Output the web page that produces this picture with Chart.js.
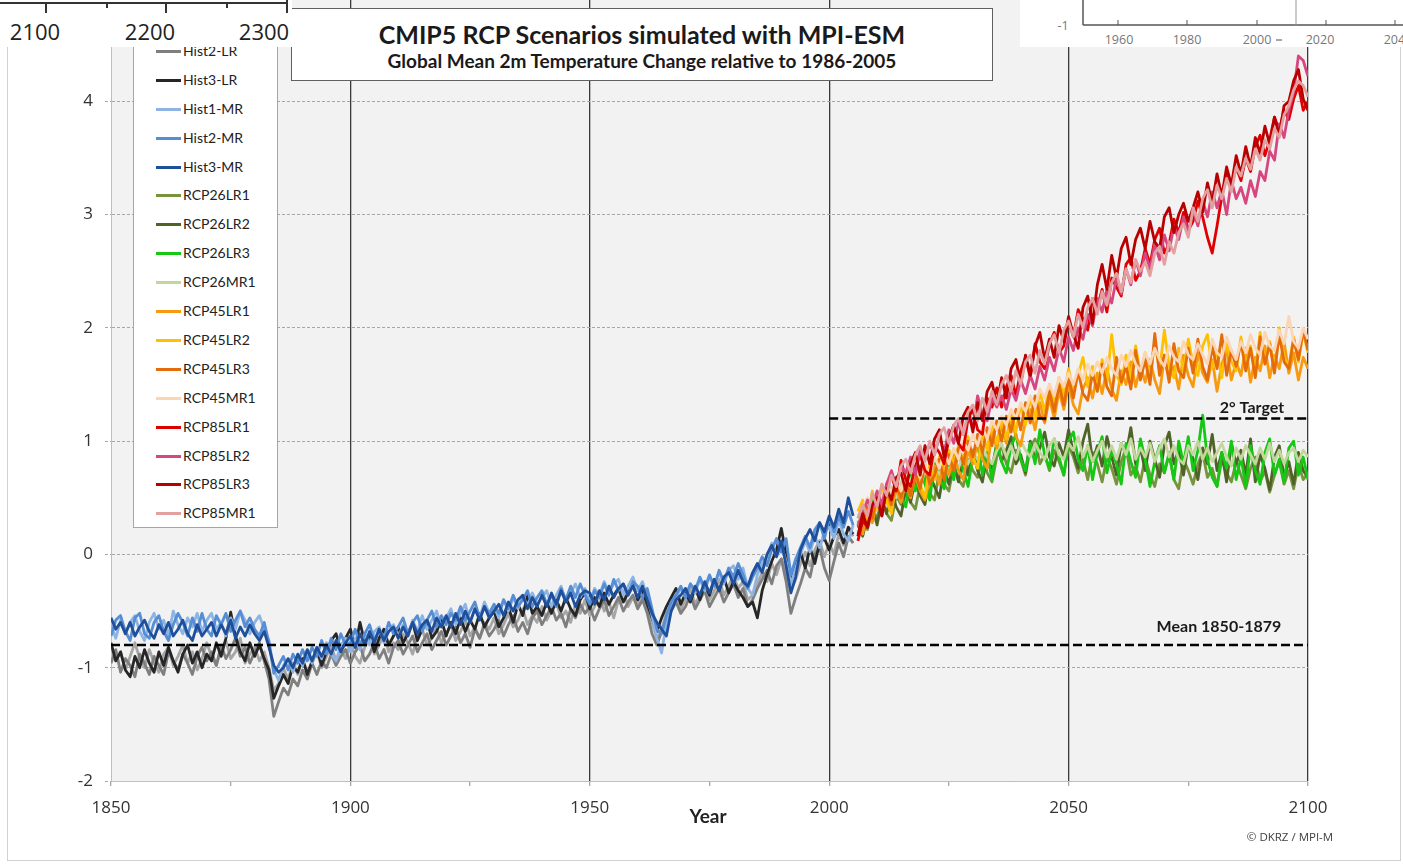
<!DOCTYPE html>
<html>
<head>
<meta charset="utf-8">
<script src="https://cdn.jsdelivr.net/npm/chart.js@4.4.0/dist/chart.umd.min.js"></script>
<style>
  body { margin:0; width:1403px; height:865px; overflow:hidden; background:#fff; position:relative; font-family:Lato, 'Open Sans', sans-serif; }
  #frame { position:absolute; left:7px; top:-2px; width:1392px; height:861px; border:1px solid #d0d0d0; }
  #wrap { position:absolute; left:0; top:-50px; width:1403px; height:915px; }
  #titlebox { position:absolute; left:291px; top:8px; width:700px; height:71px; background:#fff; border:1px solid #606060; text-align:center; color:#1a1a1a; }
  #titlebox .t1 { font-weight:bold; font-size:25px; margin-top:11px; line-height:28px; }
  #titlebox .t2 { font-weight:bold; font-size:19px; margin-top:2px; line-height:22px; }
  #legend { position:absolute; left:133px; top:5px; width:143px; height:521px; background:#fff; border:1px solid #a6a6a6; }
  .lrow { position:absolute; left:0; height:16px; width:140px; }
  .lrow .sw { position:absolute; left:22px; top:7px; width:25px; height:3px; }
  .lrow .lt { position:absolute; left:49px; top:0; font-size:14px; line-height:16px; color:#222; }
  #xtitle { position:absolute; left:658px; top:804px; width:100px; text-align:center; font-weight:bold; font-size:19px; color:#222; }
  #copy { position:absolute; left:1200px; top:829px; width:180px; text-align:center; font-family:'Open Sans', sans-serif; font-size:11.5px; color:#404040; }
  .frag { position:absolute; background:#fff; }
</style>
</head>
<body>
<div id="frame"></div>
<div id="wrap"><canvas id="chart" width="1403" height="915"></canvas></div>
<div id="titlebox">
  <div class="t1">CMIP5 RCP Scenarios simulated with MPI-ESM</div>
  <div class="t2">Global Mean 2m Temperature Change relative to 1986-2005</div>
</div>
<div id="legend"></div>
<div id="xtitle">Year</div>
<div id="copy">© DKRZ / MPI-M</div>

<!-- pieces of other figures pasted over the top edge -->
<svg class="frag" style="left:0;top:0" width="292" height="47">
  <line x1="0" y1="3" x2="288" y2="3" stroke="#333" stroke-width="2"/>
  <line x1="46" y1="3" x2="46" y2="13" stroke="#333" stroke-width="2"/>
  <line x1="107" y1="3" x2="107" y2="8" stroke="#333" stroke-width="2"/>
  <line x1="166" y1="3" x2="166" y2="13" stroke="#333" stroke-width="2"/>
  <line x1="227" y1="3" x2="227" y2="8" stroke="#333" stroke-width="2"/>
  <line x1="287" y1="0" x2="287" y2="13" stroke="#333" stroke-width="2"/>
  <g font-family="Open Sans" font-size="22" fill="#222" text-anchor="middle">
    <text x="35" y="40">2100</text><text x="150" y="40">2200</text><text x="264" y="40">2300</text>
  </g>
</svg>
<svg class="frag" style="left:1020px;top:0" width="383" height="47">
  <line x1="63" y1="0" x2="63" y2="25" stroke="#555" stroke-width="1.5"/>
  <line x1="63" y1="25" x2="383" y2="25" stroke="#555" stroke-width="1.5"/>
  <line x1="276" y1="0" x2="276" y2="25" stroke="#999" stroke-width="1"/>
  <g stroke="#555" stroke-width="1">
    <line x1="98" y1="25" x2="98" y2="20"/><line x1="167" y1="25" x2="167" y2="20"/>
    <line x1="237" y1="25" x2="237" y2="20"/><line x1="306" y1="25" x2="306" y2="20"/>
    <line x1="375" y1="25" x2="375" y2="20"/>
  </g>
  <line x1="256" y1="40" x2="262" y2="40" stroke="#888" stroke-width="1.5"/>
  <g font-family="Open Sans" font-size="12.5" fill="#777" text-anchor="middle">
    <text x="43" y="30">-1</text>
    <text x="99" y="44">1960</text><text x="167" y="44">1980</text><text x="237" y="44">2000</text>
    <text x="300" y="44">2020</text><text x="378" y="44">2040</text>
  </g>
</svg>

<script>
// years
const histYears = [
  1850,1851,1852,1853,1854,1855,1856,1857,1858,1859,
  1860,1861,1862,1863,1864,1865,1866,1867,1868,1869,
  1870,1871,1872,1873,1874,1875,1876,1877,1878,1879,
  1880,1881,1882,1883,1884,1885,1886,1887,1888,1889,
  1890,1891,1892,1893,1894,1895,1896,1897,1898,1899,
  1900,1901,1902,1903,1904,1905,1906,1907,1908,1909,
  1910,1911,1912,1913,1914,1915,1916,1917,1918,1919,
  1920,1921,1922,1923,1924,1925,1926,1927,1928,1929,
  1930,1931,1932,1933,1934,1935,1936,1937,1938,1939,
  1940,1941,1942,1943,1944,1945,1946,1947,1948,1949,
  1950,1951,1952,1953,1954,1955,1956,1957,1958,1959,
  1960,1961,1962,1963,1964,1965,1966,1967,1968,1969,
  1970,1971,1972,1973,1974,1975,1976,1977,1978,1979,
  1980,1981,1982,1983,1984,1985,1986,1987,1988,1989,
  1990,1991,1992,1993,1994,1995,1996,1997,1998,1999,
  2000,2001,2002,2003,2004,2005
];
const rcpYears = [
  2006,2007,2008,2009,2010,2011,2012,2013,2014,2015,
  2016,2017,2018,2019,2020,2021,2022,2023,2024,2025,
  2026,2027,2028,2029,2030,2031,2032,2033,2034,2035,
  2036,2037,2038,2039,2040,2041,2042,2043,2044,2045,
  2046,2047,2048,2049,2050,2051,2052,2053,2054,2055,
  2056,2057,2058,2059,2060,2061,2062,2063,2064,2065,
  2066,2067,2068,2069,2070,2071,2072,2073,2074,2075,
  2076,2077,2078,2079,2080,2081,2082,2083,2084,2085,
  2086,2087,2088,2089,2090,2091,2092,2093,2094,2095,
  2096,2097,2098,2099,2100
];

// historical runs (°C relative to 1986-2005)
const hist1LR = [
  -0.80,-0.94,-0.86,-1.02,-0.90,-0.78,-0.92,-1.00,-0.84,-0.96,
  -1.04,-0.88,-0.82,-0.98,-0.90,-0.80,-0.96,-0.86,-1.02,-0.92,
  -0.78,-0.90,-0.98,-0.84,-0.76,-0.92,-0.86,-0.74,-0.96,-0.88,
  -0.82,-0.94,-0.86,-1.00,-1.20,-1.14,-1.00,-1.10,-0.96,-1.06,
  -0.92,-1.04,-0.96,-0.86,-1.00,-0.90,-0.80,-0.94,-0.84,-0.92,
  -0.78,-0.90,-0.96,-0.82,-0.74,-0.88,-0.80,-0.70,-0.86,-0.78,
  -0.84,-0.70,-0.78,-0.88,-0.72,-0.66,-0.80,-0.74,-0.64,-0.78,
  -0.70,-0.62,-0.76,-0.68,-0.58,-0.72,-0.64,-0.74,-0.60,-0.66,
  -0.56,-0.70,-0.62,-0.52,-0.64,-0.58,-0.48,-0.62,-0.54,-0.60,
  -0.46,-0.58,-0.50,-0.42,-0.56,-0.50,-0.60,-0.44,-0.52,-0.40,
  -0.54,-0.46,-0.36,-0.50,-0.42,-0.56,-0.40,-0.32,-0.46,-0.38,
  -0.44,-0.34,-0.48,-0.60,-0.74,-0.66,-0.52,-0.44,-0.36,-0.48,
  -0.40,-0.30,-0.44,-0.36,-0.26,-0.40,-0.32,-0.22,-0.36,-0.28,
  -0.18,-0.30,-0.24,-0.40,-0.36,-0.26,-0.16,-0.24,-0.08,-0.18,
  -0.04,-0.16,-0.32,-0.22,-0.08,0.02,-0.10,0.04,0.12,-0.02,
  0.10,0.00,0.18,0.08,0.24,0.16
];
const hist2LR = [
  -0.96,-0.84,-1.04,-0.92,-0.98,-1.08,-0.88,-0.96,-1.06,-0.90,
  -0.98,-1.06,-0.86,-0.94,-1.02,-0.88,-0.96,-1.06,-0.90,-0.82,
  -0.94,-0.86,-0.98,-0.80,-0.92,-0.84,-0.74,-0.90,-0.82,-0.96,
  -0.86,-0.78,-0.94,-1.10,-1.43,-1.30,-1.18,-1.24,-1.10,-1.16,
  -1.02,-1.10,-0.96,-1.06,-0.94,-1.00,-0.88,-0.98,-0.90,-0.84,
  -0.96,-0.86,-0.80,-0.94,-0.88,-0.78,-0.92,-0.84,-0.96,-0.82,
  -0.76,-0.88,-0.80,-0.72,-0.86,-0.78,-0.70,-0.84,-0.76,-0.68,
  -0.80,-0.72,-0.64,-0.78,-0.70,-0.82,-0.66,-0.74,-0.62,-0.72,
  -0.66,-0.58,-0.72,-0.62,-0.54,-0.68,-0.60,-0.70,-0.56,-0.50,
  -0.62,-0.54,-0.46,-0.58,-0.52,-0.64,-0.48,-0.56,-0.44,-0.52,
  -0.46,-0.58,-0.48,-0.40,-0.54,-0.46,-0.38,-0.50,-0.42,-0.36,
  -0.48,-0.40,-0.52,-0.70,-0.80,-0.68,-0.58,-0.50,-0.42,-0.52,
  -0.46,-0.36,-0.48,-0.40,-0.32,-0.46,-0.38,-0.30,-0.42,-0.34,
  -0.26,-0.38,-0.30,-0.46,-0.40,-0.30,-0.22,-0.14,-0.26,-0.10,
  -0.04,-0.24,-0.52,-0.38,-0.26,-0.12,-0.20,0.00,0.06,-0.12,
  -0.23,-0.06,0.10,-0.02,0.16,0.10
];
const hist3LR = [
  -0.78,-0.94,-0.86,-1.02,-1.08,-0.90,-1.00,-0.84,-0.96,-1.04,
  -0.86,-0.98,-0.82,-0.94,-1.04,-0.88,-0.80,-0.96,-0.86,-1.00,
  -0.88,-0.94,-0.78,-0.90,-0.74,-0.51,-0.72,-0.86,-0.94,-0.78,
  -0.90,-0.80,-0.92,-1.02,-1.27,-1.16,-1.06,-1.14,-0.98,-1.04,
  -0.92,-1.06,-0.94,-0.84,-0.98,-0.86,-0.76,-0.70,-0.84,-0.74,
  -0.66,-0.82,-0.60,-0.78,-0.70,-0.86,-0.74,-0.66,-0.80,-0.72,
  -0.64,-0.78,-0.70,-0.60,-0.76,-0.66,-0.58,-0.74,-0.68,-0.58,
  -0.72,-0.60,-0.70,-0.56,-0.68,-0.58,-0.66,-0.52,-0.64,-0.56,
  -0.50,-0.64,-0.56,-0.46,-0.60,-0.44,-0.54,-0.36,-0.52,-0.46,
  -0.54,-0.42,-0.52,-0.40,-0.50,-0.38,-0.48,-0.54,-0.40,-0.34,
  -0.48,-0.38,-0.46,-0.34,-0.44,-0.36,-0.30,-0.42,-0.34,-0.26,
  -0.40,-0.32,-0.44,-0.56,-0.68,-0.56,-0.46,-0.38,-0.30,-0.44,
  -0.34,-0.42,-0.30,-0.40,-0.26,-0.36,-0.22,-0.32,-0.20,-0.34,
  -0.24,-0.32,-0.38,-0.46,-0.42,-0.56,-0.32,-0.18,-0.06,0.04,
  0.23,0.00,-0.22,-0.10,0.02,-0.12,0.06,-0.08,0.10,0.14,
  0.04,0.16,0.22,0.10,0.24,0.18
];
const hist1MR = [
  -0.62,-0.74,-0.58,-0.70,-0.60,-0.54,-0.68,-0.76,-0.60,-0.52,
  -0.66,-0.58,-0.72,-0.50,-0.62,-0.70,-0.56,-0.64,-0.52,-0.68,
  -0.58,-0.52,-0.66,-0.60,-0.72,-0.56,-0.66,-0.50,-0.58,-0.70,
  -0.60,-0.54,-0.66,-0.76,-1.02,-1.11,-0.98,-0.92,-1.04,-0.90,
  -0.98,-0.86,-0.96,-0.82,-0.92,-0.78,-0.88,-0.94,-0.80,-0.74,
  -0.86,-0.74,-0.84,-0.70,-0.80,-0.68,-0.64,-0.78,-0.68,-0.62,
  -0.74,-0.62,-0.72,-0.58,-0.68,-0.54,-0.66,-0.58,-0.50,-0.64,
  -0.56,-0.48,-0.62,-0.52,-0.44,-0.60,-0.48,-0.56,-0.42,-0.52,
  -0.46,-0.56,-0.40,-0.50,-0.38,-0.48,-0.36,-0.46,-0.34,-0.44,
  -0.38,-0.32,-0.46,-0.36,-0.28,-0.42,-0.34,-0.26,-0.38,-0.30,
  -0.42,-0.30,-0.36,-0.24,-0.34,-0.26,-0.22,-0.36,-0.28,-0.20,
  -0.32,-0.24,-0.38,-0.54,-0.74,-0.87,-0.60,-0.46,-0.38,-0.30,
  -0.38,-0.26,-0.34,-0.22,-0.32,-0.20,-0.28,-0.16,-0.26,-0.14,
  -0.10,-0.22,-0.12,-0.30,-0.36,-0.18,-0.08,-0.02,0.10,-0.02,
  0.08,-0.06,-0.26,-0.12,0.00,0.12,0.02,0.16,0.06,0.20,
  0.24,0.14,0.30,0.18,0.12,0.26
];
const hist2MR = [
  -0.72,-0.58,-0.54,-0.68,-0.76,-0.56,-0.52,-0.70,-0.74,-0.60,
  -0.54,-0.68,-0.76,-0.62,-0.52,-0.60,-0.72,-0.56,-0.68,-0.52,
  -0.66,-0.72,-0.54,-0.62,-0.52,-0.68,-0.58,-0.50,-0.64,-0.56,
  -0.66,-0.72,-0.60,-0.78,-1.05,-0.98,-0.90,-1.02,-0.88,-0.96,
  -0.84,-0.94,-0.82,-0.90,-0.76,-0.88,-0.74,-0.84,-0.70,-0.80,
  -0.78,-0.66,-0.80,-0.70,-0.62,-0.76,-0.66,-0.74,-0.60,-0.70,
  -0.64,-0.56,-0.70,-0.60,-0.54,-0.68,-0.58,-0.50,-0.64,-0.54,
  -0.62,-0.52,-0.58,-0.46,-0.58,-0.50,-0.42,-0.56,-0.46,-0.52,
  -0.44,-0.52,-0.40,-0.48,-0.36,-0.46,-0.40,-0.32,-0.46,-0.38,
  -0.32,-0.44,-0.36,-0.46,-0.30,-0.40,-0.28,-0.38,-0.26,-0.36,
  -0.44,-0.32,-0.38,-0.26,-0.36,-0.22,-0.32,-0.26,-0.36,-0.24,
  -0.28,-0.38,-0.30,-0.48,-0.66,-0.70,-0.54,-0.42,-0.36,-0.28,
  -0.38,-0.26,-0.32,-0.20,-0.30,-0.18,-0.28,-0.14,-0.24,-0.12,
  -0.20,-0.08,-0.18,-0.30,-0.20,-0.12,-0.02,-0.10,0.04,0.14,
  0.02,0.14,-0.18,-0.04,0.06,0.16,0.06,0.22,0.28,0.14,
  0.32,0.20,0.34,0.24,0.38,0.26
];
const hist3MR = [
  -0.56,-0.66,-0.60,-0.70,-0.60,-0.72,-0.64,-0.58,-0.68,-0.74,
  -0.62,-0.70,-0.60,-0.72,-0.66,-0.58,-0.70,-0.76,-0.62,-0.72,
  -0.66,-0.60,-0.72,-0.62,-0.70,-0.58,-0.74,-0.64,-0.72,-0.62,
  -0.70,-0.76,-0.68,-0.82,-0.98,-1.04,-1.00,-0.92,-1.00,-0.88,
  -0.96,-0.84,-0.94,-0.82,-0.90,-0.80,-0.88,-0.76,-0.86,-0.78,
  -0.72,-0.82,-0.70,-0.80,-0.68,-0.78,-0.66,-0.76,-0.68,-0.64,
  -0.74,-0.64,-0.72,-0.60,-0.70,-0.62,-0.58,-0.68,-0.56,-0.64,
  -0.54,-0.64,-0.52,-0.62,-0.50,-0.60,-0.48,-0.58,-0.46,-0.56,
  -0.50,-0.44,-0.54,-0.42,-0.50,-0.40,-0.36,-0.48,-0.38,-0.46,
  -0.36,-0.46,-0.34,-0.44,-0.32,-0.42,-0.34,-0.46,-0.36,-0.32,
  -0.34,-0.44,-0.32,-0.40,-0.28,-0.38,-0.30,-0.26,-0.36,-0.28,
  -0.38,-0.28,-0.40,-0.52,-0.60,-0.66,-0.72,-0.50,-0.40,-0.36,
  -0.30,-0.40,-0.28,-0.36,-0.24,-0.34,-0.22,-0.32,-0.20,-0.16,
  -0.26,-0.14,-0.24,-0.28,-0.16,-0.08,-0.16,0.00,0.08,-0.02,
  0.12,-0.10,-0.34,-0.20,0.04,0.14,0.22,0.12,0.28,0.20,
  0.34,0.24,0.40,0.28,0.50,0.34
];

// RCP 2.6
const rcp26LR1 = [
  0.16,0.28,0.22,0.40,0.32,0.48,0.36,0.30,0.52,0.44,
  0.58,0.46,0.40,0.62,0.70,0.54,0.48,0.74,0.62,0.56,
  0.78,0.66,0.60,0.84,0.74,0.68,0.90,0.72,0.64,0.86,
  0.96,0.80,0.72,0.92,0.84,0.70,0.94,1.02,0.80,0.88,
  0.74,0.92,0.82,0.70,0.96,0.86,0.72,0.84,0.66,0.90,
  0.80,0.64,0.86,0.76,0.62,0.82,0.94,0.70,0.78,0.64,
  0.86,0.70,0.60,0.80,0.72,0.88,0.66,0.58,0.84,0.74,
  0.62,0.80,0.90,0.68,0.76,0.60,0.84,0.72,0.64,0.82,
  0.70,0.58,0.76,0.86,0.64,0.74,0.55,0.70,0.82,0.62,
  0.74,0.58,0.80,0.66,0.72
];
const rcp26LR2 = [
  0.26,0.16,0.34,0.42,0.26,0.48,0.36,0.56,0.42,0.34,
  0.58,0.46,0.66,0.52,0.44,0.70,0.60,0.50,0.76,0.62,
  0.80,0.64,0.86,0.70,0.92,0.74,0.64,0.88,0.76,0.98,
  0.82,0.92,1.04,0.80,0.88,0.72,1.00,0.84,0.94,1.08,
  0.86,0.78,0.98,0.86,1.10,0.90,0.76,1.00,1.15,0.82,
  0.96,0.78,1.04,0.86,0.70,0.98,0.88,1.12,0.80,0.94,
  0.74,1.00,0.84,0.68,0.96,1.08,0.80,0.92,0.70,0.98,
  0.84,0.66,0.94,0.80,1.06,0.74,0.90,0.64,0.98,0.80,
  0.92,0.70,1.02,0.64,0.88,0.76,0.57,0.86,0.96,0.68,
  0.82,0.62,0.90,0.74,0.68
];
const rcp26LR3 = [
  0.32,0.40,0.24,0.46,0.54,0.38,0.60,0.46,0.66,0.52,
  0.42,0.70,0.56,0.78,0.62,0.48,0.82,0.68,0.58,0.84,
  0.66,0.92,0.74,0.60,0.86,0.98,0.70,0.90,0.66,1.00,
  0.82,0.72,0.96,1.06,0.84,0.74,0.98,0.80,1.10,0.88,
  0.76,1.02,0.86,0.70,1.00,1.08,0.84,0.74,0.96,0.66,
  0.90,1.04,0.72,0.92,0.80,0.62,0.98,0.82,0.68,1.02,
  0.84,0.60,0.82,0.96,0.72,0.90,0.66,1.00,0.80,1.04,
  0.74,0.92,1.23,0.84,0.68,0.60,0.90,0.76,1.00,0.66,
  0.86,0.60,0.96,0.74,0.62,0.90,1.02,0.70,0.84,0.64,
  0.94,1.00,0.70,0.86,0.66
];
const rcp26MR1 = [
  0.26,0.36,0.44,0.34,0.48,0.56,0.46,0.60,0.50,0.64,
  0.56,0.66,0.72,0.60,0.74,0.66,0.78,0.70,0.82,0.74,
  0.84,0.76,0.88,0.80,0.90,0.84,0.94,0.86,0.80,0.92,
  0.98,0.86,0.96,0.84,1.00,0.92,0.86,0.98,0.90,0.84,
  0.96,1.02,0.88,0.84,0.98,0.92,1.04,0.86,0.96,0.82,
  0.92,1.00,0.86,0.96,0.84,0.98,0.88,1.02,0.84,0.94,
  0.86,0.98,0.82,0.94,1.02,0.86,0.96,0.84,0.80,0.96,
  0.88,1.00,0.84,0.94,0.82,0.90,0.98,0.86,0.78,0.94,
  0.84,0.96,0.88,0.80,0.94,0.84,0.98,0.82,0.92,0.80,
  0.90,0.94,0.82,0.92,0.86
];
// RCP 4.5
const rcp45LR1 = [
  0.30,0.18,0.38,0.28,0.46,0.36,0.54,0.40,0.58,0.46,
  0.64,0.50,0.70,0.56,0.48,0.66,0.78,0.62,0.84,0.70,
  0.88,0.74,0.66,0.92,0.80,1.00,0.84,0.76,1.08,0.94,
  1.14,0.98,1.20,1.04,0.96,1.18,1.28,1.10,1.34,1.16,
  1.38,1.20,1.44,1.28,1.50,1.32,1.24,1.46,1.56,1.38,
  1.60,1.42,1.64,1.46,1.36,1.62,1.50,1.70,1.48,1.66,
  1.52,1.72,1.54,1.42,1.74,1.56,1.66,1.46,1.76,1.58,
  1.48,1.78,1.60,1.52,1.72,1.44,1.68,1.80,1.54,1.70,
  1.58,1.82,1.52,1.74,1.62,1.84,1.56,1.76,1.64,1.88,
  1.60,1.78,1.54,1.74,1.64
];
const rcp45LR2 = [
  0.38,0.48,0.28,0.56,0.40,0.62,0.46,0.36,0.66,0.52,
  0.70,0.54,0.76,0.62,0.50,0.80,0.66,0.86,0.70,0.92,
  0.78,0.96,0.82,1.04,0.86,0.76,1.08,0.92,1.16,0.98,
  1.20,1.02,1.26,1.08,1.32,1.14,1.38,1.20,1.44,1.26,
  1.50,1.32,1.56,1.40,1.64,1.44,1.58,1.74,1.48,1.66,
  1.44,1.72,1.52,1.94,1.58,1.50,1.76,1.56,1.84,1.60,
  1.78,1.54,1.88,1.62,1.98,1.66,1.56,1.82,1.62,1.90,
  1.68,1.58,1.84,1.94,1.64,1.80,1.56,1.88,1.70,1.62,
  1.92,1.66,1.84,1.60,1.96,1.70,1.88,1.64,2.00,1.74,
  1.66,1.92,1.70,1.96,1.78
];
const rcp45LR3 = [
  0.18,0.30,0.42,0.32,0.52,0.42,0.58,0.44,0.62,0.50,
  0.66,0.52,0.72,0.58,0.80,0.62,0.70,0.84,0.66,0.88,
  0.74,0.94,0.80,1.00,0.86,1.06,0.90,1.12,0.96,1.18,
  1.00,1.22,1.08,1.28,1.10,1.34,1.16,1.40,1.22,1.18,
  1.44,1.26,1.50,1.32,1.56,1.38,1.62,1.42,1.36,1.60,
  1.44,1.68,1.48,1.40,1.74,1.52,1.66,1.46,1.80,1.54,
  1.72,1.50,1.95,1.58,1.76,1.52,1.86,1.62,1.56,1.82,
  1.60,1.90,1.66,1.54,1.84,1.64,1.94,1.58,1.80,1.66,
  1.88,1.62,1.82,1.56,1.92,1.68,1.86,1.60,1.94,1.70,
  1.64,1.90,1.72,1.98,1.80
];
const rcp45MR1 = [
  0.34,0.42,0.50,0.40,0.56,0.48,0.62,0.54,0.66,0.56,
  0.70,0.60,0.76,0.68,0.80,0.70,0.86,0.76,0.90,0.80,
  0.94,0.84,1.00,0.92,1.06,0.96,1.12,1.02,1.18,1.10,
  1.22,1.14,1.28,1.20,1.34,1.26,1.40,1.30,1.46,1.38,
  1.50,1.40,1.56,1.48,1.60,1.50,1.64,1.54,1.68,1.58,
  1.70,1.60,1.74,1.64,1.58,1.76,1.66,1.80,1.68,1.62,
  1.78,1.68,1.82,1.72,1.66,1.84,1.74,1.70,1.88,1.76,
  1.72,1.86,1.76,1.68,1.90,1.78,1.74,1.92,1.80,1.72,
  1.88,1.78,1.94,1.82,1.76,1.96,1.84,1.80,1.98,1.86,
  2.10,1.88,1.82,2.00,1.90
];
// RCP 8.5
const rcp85LR1 = [
  0.12,0.30,0.24,0.42,0.50,0.34,0.62,0.70,0.56,0.83,
  0.66,0.60,0.78,0.88,0.74,0.70,0.96,0.90,0.80,1.02,
  1.12,0.98,0.92,1.20,1.28,1.10,1.06,1.38,1.30,1.47,
  1.30,1.48,1.58,1.40,1.62,1.74,1.56,1.86,1.70,1.64,
  1.86,1.96,1.78,1.84,2.06,1.92,2.16,2.08,1.98,2.26,
  2.18,2.34,2.14,2.44,2.36,2.28,2.56,2.62,2.42,2.50,
  2.70,2.56,2.78,2.88,2.66,2.74,2.96,2.84,3.02,2.86,
  2.94,3.12,2.98,2.80,2.66,2.90,3.16,3.36,3.24,3.42,
  3.30,3.50,3.38,3.60,3.70,3.52,3.66,3.86,3.74,3.92,
  3.84,4.02,4.14,3.92,4.00
];
const rcp85LR2 = [
  0.26,0.36,0.48,0.40,0.56,0.44,0.62,0.74,0.60,0.78,
  0.72,0.86,0.70,0.92,0.84,0.98,0.88,1.04,0.90,1.10,
  0.98,1.16,1.06,1.22,1.12,1.40,1.24,1.18,1.38,1.30,
  1.40,1.28,1.46,1.36,1.54,1.42,1.58,1.46,1.66,1.54,
  1.74,1.62,1.82,1.70,1.92,1.80,2.00,1.90,2.12,2.02,
  2.26,2.14,2.34,2.22,2.44,2.30,2.52,2.38,2.60,2.46,
  2.66,2.52,2.74,2.60,2.82,2.68,2.90,2.78,2.98,2.84,
  3.04,2.90,3.12,2.98,3.20,3.06,3.22,3.00,3.30,3.14,
  3.24,3.10,3.30,3.16,3.38,3.30,3.56,3.48,3.80,3.68,
  3.92,4.08,4.40,4.36,4.22
];
const rcp85LR3 = [
  0.16,0.36,0.24,0.44,0.50,0.34,0.58,0.48,0.68,0.72,
  0.56,0.80,0.90,0.70,0.96,0.80,1.02,1.10,0.86,1.02,
  1.14,0.98,1.22,1.30,1.08,1.34,1.18,1.44,1.52,1.32,
  1.56,1.38,1.64,1.72,1.50,1.76,1.58,1.84,1.96,1.72,
  1.90,1.74,2.02,1.88,2.10,1.94,1.82,2.18,2.28,2.04,
  2.38,2.56,2.34,2.64,2.44,2.70,2.80,2.56,2.78,2.88,
  2.70,2.94,2.76,2.70,2.98,3.06,2.84,3.00,3.10,2.94,
  3.06,3.20,3.02,3.28,3.10,3.36,3.16,3.42,3.26,3.52,
  3.36,3.60,3.42,3.68,3.54,3.78,3.62,3.86,3.70,3.96,
  4.00,4.18,4.28,4.02,3.92
];
const rcp85MR1 = [
  0.32,0.44,0.34,0.54,0.42,0.62,0.52,0.70,0.60,0.78,
  0.84,0.72,0.88,0.96,0.82,1.00,0.88,1.06,1.12,0.98,
  1.14,1.20,1.06,1.26,1.32,1.18,1.38,1.26,1.44,1.32,
  1.50,1.58,1.44,1.62,1.50,1.70,1.76,1.60,1.80,1.68,
  1.86,1.94,1.78,1.98,2.06,1.92,2.12,2.00,2.18,2.26,
  2.12,2.32,2.20,2.40,2.48,2.32,2.52,2.40,2.60,2.50,
  2.58,2.46,2.66,2.72,2.56,2.76,2.66,2.84,2.92,2.80,
  3.06,2.94,3.14,3.22,3.06,3.26,3.14,3.32,3.20,3.42,
  3.34,3.50,3.40,3.58,3.48,3.66,3.58,3.76,3.68,3.88,
  3.96,4.10,4.18,4.14,4.04
];

const seriesNames = ['Hist1-LR','Hist2-LR','Hist3-LR','Hist1-MR','Hist2-MR','Hist3-MR',
  'RCP26LR1','RCP26LR2','RCP26LR3','RCP26MR1','RCP45LR1','RCP45LR2','RCP45LR3','RCP45MR1',
  'RCP85LR1','RCP85LR2','RCP85LR3','RCP85MR1'];
const seriesColors = ['#a6a6a6','#7f7f7f','#262626','#8db4e2','#558ed5','#1f4e9a',
  '#77933c','#4f6228','#14c814','#c3d69b','#f79a0f','#ffc000','#e46c0a','#fcd5b5',
  '#e00000','#d6467f','#b80000','#e2a0a0'];
const seriesValues = [hist1LR, hist2LR, hist3LR, hist1MR, hist2MR, hist3MR,
  rcp26LR1, rcp26LR2, rcp26LR3, rcp26MR1, rcp45LR1, rcp45LR2, rcp45LR3, rcp45MR1,
  rcp85LR1, rcp85LR2, rcp85LR3, rcp85MR1];

// reference levels
const targetYears = [2000, 2100];
const targetLevel = [1.2, 1.2];
const meanYears = [1850, 2100];
const meanLevel = [-0.8, -0.8];

const xTicks = [1850,1875,1900,1925,1950,1975,2000,2025,2050,2075,2100];

const pts = (xs, ys) => xs.map((x, i) => ({ x: x, y: ys[i] }));

const datasets = [];
const refStyle = { borderColor:'#000', borderWidth:2.6, borderDash:[9,4], pointRadius:0, order:0 };
datasets.push(Object.assign({ data: pts(targetYears, targetLevel) }, refStyle));
datasets.push(Object.assign({ data: pts(meanYears, meanLevel) }, refStyle));
seriesValues.forEach((vals, i) => {
  const xs = i < 6 ? histYears : rcpYears;
  datasets.push({
    label: seriesNames[i],
    data: pts(xs, vals),
    borderColor: seriesColors[i],
    borderWidth: 2.8,
    pointRadius: 0,
    tension: 0,
    borderJoinStyle: 'round',
    order: 100 - i
  });
});

// legend box
const legendEl = document.getElementById('legend');
seriesNames.forEach((name, i) => {
  const row = document.createElement('div');
  row.className = 'lrow';
  row.style.top = (8 + i * 28.9) + 'px';
  row.innerHTML = `<span class="sw" style="background:${seriesColors[i]}"></span><span class="lt">${name}</span>`;
  legendEl.appendChild(row);
});

const plotBg = {
  id: 'plotBg',
  beforeDraw(chart) {
    const { ctx, chartArea: a } = chart;
    ctx.save();
    ctx.fillStyle = '#f2f2f2';
    ctx.fillRect(a.left, a.top, a.right - a.left, a.bottom - a.top);
    ctx.restore();
  }
};
const refLabels = {
  id: 'refLabels',
  afterDatasetsDraw(chart) {
    const { ctx, scales: { x, y } } = chart;
    ctx.save();
    ctx.font = 'bold 16px Lato';
    ctx.fillStyle = '#1a1a1a';
    ctx.textAlign = 'center';
    ctx.textBaseline = 'middle';
    ctx.fillText('2° Target', x.getPixelForValue(2088.3), y.getPixelForValue(targetLevel[0]) - 11);
    ctx.fillText('Mean 1850-1879', x.getPixelForValue(2081.4), y.getPixelForValue(meanLevel[0]) - 18);
    ctx.restore();
  }
};

new Chart(document.getElementById('chart'), {
  type: 'line',
  data: { datasets: datasets },
  plugins: [plotBg, refLabels],
  options: {
    responsive: false,
    animation: false,
    layout: { padding: { top: 38, right: 95, bottom: 0, left: 0 } },
    plugins: { legend: { display: false }, tooltip: { enabled: false } },
    scales: {
      x: {
        type: 'linear', min: 1850, max: 2100,
        afterBuildTicks: axis => { axis.ticks = xTicks.map(v => ({ value: v })); },
        afterFit: s => { s.height = 84; },
        ticks: {
          callback: v => (v % 50 === 0 ? String(v) : ''),
          autoSkip: false, maxRotation: 0, padding: 12,
          font: { family: 'Open Sans', size: 17 }, color: '#333'
        },
        grid: {
          color: c => (c.tick && c.tick.value % 50 === 0 && c.tick.value !== 1850) ? '#3a3a3a' : 'rgba(0,0,0,0)',
          lineWidth: 1.3,
          tickColor: '#a6a6a6', tickLength: 5
        },
        border: { color: '#bfbfbf', width: 1 }
      },
      y: {
        min: -2, max: 5,
        afterFit: s => { s.width = 111; },
        ticks: {
          stepSize: 1,
          callback: v => (v <= 4 ? String(v) : ''),
          padding: 12,
          font: { family: 'Open Sans', size: 17 }, color: '#333'
        },
        grid: { color: '#a6a6a6', lineWidth: 1, tickColor: '#a6a6a6', tickLength: 6, tickBorderDash: [3, 2] },
        border: { color: '#bfbfbf', width: 1, dash: [3, 2] }
      }
    }
  }
});
</script>
</body>
</html>
